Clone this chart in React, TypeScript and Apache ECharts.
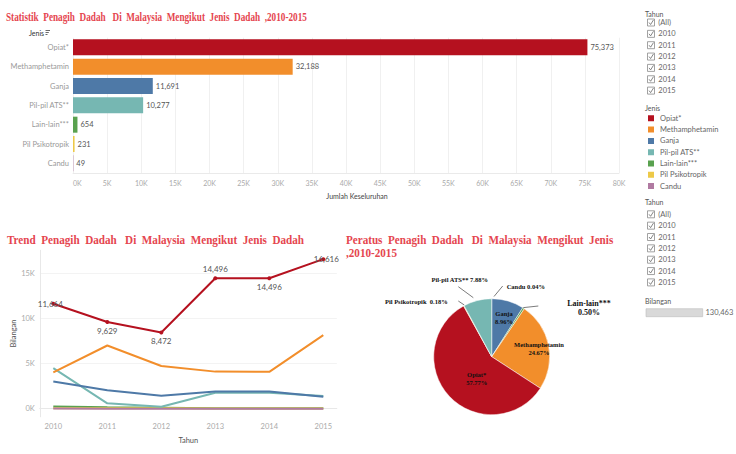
import React, { useEffect, useRef } from 'react';
import * as echarts from 'echarts';

// ---------- data ----------
const jenis = ['Opiat*', 'Methamphetamin', 'Ganja', 'Pil-pil ATS**', 'Lain-lain***', 'Pil Psikotropik', 'Candu'];
const jenisColors = ['#b5111f', '#f28e2b', '#4e79a7', '#76b7b2', '#59a14f', '#edc948', '#b07aa1'];
const totals = [75373, 32188, 11691, 10277, 654, 231, 49];

const years = [2010, 2011, 2012, 2013, 2014, 2015];
const opiat = [11664, 9629, 8472, 14496, 14496, 16616];
const meth = [4030, 7020, 4750, 4120, 4100, 8168];
const ganja = [3030, 2050, 1430, 1920, 1920, 1341];
const pilAts = [4500, 600, 222, 1778, 1778, 1399];
const lainLain = [250, 150, 100, 60, 50, 44];
const psiko = [50, 40, 40, 35, 35, 31];
const candu = [10, 8, 8, 8, 8, 7];
const lineYTicks = [0, 5000, 10000, 15000];
const opiatLabelPos = ['inside', 'bottom', 'bottom', 'top', 'bottom', 'inside'];

const pieOrder = ['Candu', 'Ganja', 'Lain-lain***', 'Methamphetamin', 'Opiat*', 'Pil Psikotropik', 'Pil-pil ATS**'];
const pieInside = ['Ganja', 'Methamphetamin', 'Opiat*'];
const pieSep: Record<string, string> = { 'Candu': ' ', 'Pil Psikotropik': '  ', 'Pil-pil ATS**': ' ' };

const tahunOptions = ['(All)', '2010', '2011', '2012', '2013', '2014', '2015'];
const totalBilangan = 130463;

// ---------- layout (positions only) ----------
const pieLabelPos: { x: number; y: number; line?: number[][] }[] = [
  { x: 525.8, y: 286.3, line: [[502.7, 286], [494, 296.5]] },
  { x: 504, y: 317 },
  { x: 589, y: 308, line: [[522.7, 307.7], [538.3, 306]] },
  { x: 539, y: 348 },
  { x: 476.7, y: 378 },
  { x: 416.3, y: 301, line: [[458.3, 301], [464.3, 305]] },
  { x: 459.7, y: 279.3, line: [[458.3, 286.7], [473.3, 297.7]] },
];

const SANS = 'Lato';
const SERIF = 'Liberation Serif';
const TITLE_RED = '#e5464f';

function fmtK(v: number) {
  return Math.round(v / 1000) + 'K';
}

function checkboxList(top: number, x: number) {
  const els: any[] = [];
  tahunOptions.forEach((t, i) => {
    const y = top + i * 11.35;
    els.push({
      type: 'rect',
      shape: { x: x + 2.5, y: y - 3.5, width: 7, height: 7 },
      style: { fill: '#fff', stroke: '#8a8a8a', lineWidth: 0.8 },
    });
    els.push({
      type: 'polyline',
      shape: { points: [[x + 4, y], [x + 5.6, y + 2], [x + 8.5, y - 2.6]] },
      style: { stroke: '#666', lineWidth: 0.8, fill: null },
    });
    els.push({
      type: 'text',
      x: x + 13.3,
      y,
      style: { text: t, fill: '#666', fontSize: 7.5, fontFamily: SANS, verticalAlign: 'middle' },
    });
  });
  return els;
}

export default function App() {
  const ref = useRef<HTMLDivElement>(null);

  useEffect(() => {
    if (!ref.current) return;
    const chart = echarts.init(ref.current, undefined, { renderer: 'svg' });

    const lineSeriesDefs = [
      { name: 'Lain-lain***', data: lainLain, color: jenisColors[4] },
      { name: 'Pil Psikotropik', data: psiko, color: jenisColors[5] },
      { name: 'Candu', data: candu, color: jenisColors[6] },
      { name: 'Pil-pil ATS**', data: pilAts, color: jenisColors[3] },
      { name: 'Ganja', data: ganja, color: jenisColors[2] },
      { name: 'Methamphetamin', data: meth, color: jenisColors[1] },
    ];

    const option: any = {
      animation: false,
      backgroundColor: '#fff',
      textStyle: { fontFamily: SANS },
      grid: [
        { left: 73, top: 37.7, width: 546, height: 135.3 },
        { left: 39.8, top: 250.3, width: 297, height: 166.5 },
      ],
      xAxis: [
        {
          type: 'value',
          gridIndex: 0,
          min: 0,
          max: 80000,
          interval: 5000,
          axisLabel: { formatter: fmtK, color: '#aaa', fontSize: 7, margin: 6, alignMinLabel: 'left', fontFamily: SANS },
          axisLine: { show: true, lineStyle: { color: '#eaeaea' } },
          axisTick: { show: false },
          splitLine: { lineStyle: { color: '#f0f0f0' } },
        },
        {
          type: 'value',
          gridIndex: 1,
          min: 2009.75,
          max: 2015.25,
          axisLabel: { customValues: years, formatter: (v: number) => String(v), color: '#aaa', fontSize: 7.5, margin: 6, fontFamily: SANS },
          axisTick: { show: false, customValues: years },
          axisLine: { show: true, lineStyle: { color: '#e8e8e8' } },
          splitLine: { show: false },
          name: 'Tahun',
          nameLocation: 'middle',
          nameGap: 20,
          nameTextStyle: { color: '#555', fontSize: 7.5, fontFamily: SANS },
        },
      ],
      yAxis: [
        {
          type: 'category',
          gridIndex: 0,
          inverse: true,
          data: jenis,
          axisLabel: { color: '#999', fontSize: 7.5, margin: 4, fontFamily: SANS },
          axisLine: { show: false },
          axisTick: { show: false },
        },
        {
          type: 'value',
          gridIndex: 1,
          min: -900,
          max: 17600,
          axisLabel: { customValues: lineYTicks, formatter: fmtK, color: '#aaa', fontSize: 7.5, margin: 5, fontFamily: SANS },
          axisTick: { show: false, customValues: lineYTicks },
          axisLine: { show: true, lineStyle: { color: '#e8e8e8' } },
          splitLine: { show: true, lineStyle: { color: '#f3f3f3' } },
          name: 'Bilangan',
          nameLocation: 'middle',
          nameGap: 22,
          nameTextStyle: { color: '#555', fontSize: 7.5, fontFamily: SANS },
        },
      ],
      legend: {
        data: jenis,
        orient: 'vertical',
        left: 646,
        top: 113.3,
        itemWidth: 8,
        itemHeight: 8,
        itemGap: 1.3,
        icon: 'rect',
        padding: 0,
        selectedMode: false,
        textStyle: { color: '#666', fontSize: 7.5, fontFamily: SANS },
      },
      series: [
        {
          type: 'bar',
          xAxisIndex: 0,
          yAxisIndex: 0,
          barWidth: 16,
          data: totals.map((v, i) => ({ value: v, itemStyle: { color: jenisColors[i] } })),
          label: {
            show: true,
            position: 'right',
            distance: 3,
            color: '#555',
            fontSize: 7.5,
            fontFamily: SANS,
            formatter: (p: any) => Number(p.value).toLocaleString('en-US'),
          },
        },
        ...lineSeriesDefs.map((d) => ({
          type: 'line',
          name: d.name + ' ',
          xAxisIndex: 1,
          yAxisIndex: 1,
          data: years.map((y, i) => [y, d.data[i]]),
          showSymbol: false,
          lineStyle: { color: d.color, width: 2 },
          itemStyle: { color: d.color },
        })),
        {
          type: 'line',
          name: 'Opiat* ',
          xAxisIndex: 1,
          yAxisIndex: 1,
          z: 5,
          data: years.map((y, i) => ({
            value: [y, opiat[i]],
            label: {
              position: opiatLabelPos[i],
              offset: i === 0 ? [-3, 0] : i === 5 ? [3, 0] : [0, 0],
            },
          })),
          symbol: 'circle',
          symbolSize: 4,
          lineStyle: { color: jenisColors[0], width: 2 },
          itemStyle: { color: jenisColors[0] },
          label: {
            show: true,
            distance: 3,
            color: '#555',
            fontSize: 8,
            fontFamily: SANS,
            formatter: (p: any) => Number(p.value[1]).toLocaleString('en-US'),
          },
        },
        {
          type: 'pie',
          center: [491.7, 356.7],
          radius: 58,
          startAngle: 90,
          clockwise: true,
          avoidLabelOverlap: false,
          itemStyle: { borderColor: '#fff', borderWidth: 0.5 },
          data: pieOrder.map((n) => {
            const idx = jenis.indexOf(n);
            const inside = pieInside.indexOf(n) >= 0;
            return {
              name: n,
              value: totals[idx],
              itemStyle: { color: jenisColors[idx] },
              label: {
                position: inside ? 'inside' : 'outside',
                fontSize: n === 'Lain-lain***' ? 8 : 6.5,
                lineHeight: n === 'Lain-lain***' ? 9.5 : 8,
              },
              labelLine: { show: !inside },
            };
          }),
          label: {
            show: true,
            color: '#111',
            fontFamily: SERIF,
            fontWeight: 'bold',
            formatter: (p: any) => {
              const sep = pieSep[p.name] !== undefined ? pieSep[p.name] : '\n';
              return p.name + sep + p.percent.toFixed(2) + '%';
            },
          },
          labelLine: { lineStyle: { color: '#444', width: 0.7 }, length: 5, length2: 5 },
          labelLayout: (params: any) => {
            const p = pieLabelPos[params.dataIndex];
            const res: any = { x: p.x, y: p.y, align: 'center', verticalAlign: 'middle' };
            if (p.line) res.labelLinePoints = [p.line[0], p.line[0], p.line[1]];
            return res;
          },
        },
      ],
      graphic: [
        {
          type: 'text',
          x: 6,
          y: 17,
          scaleX: 0.8,
          style: { text: 'Statistik  Penagih  Dadah   Di  Malaysia  Mengikut  Jenis  Dadah  ,2010-2015', fill: TITLE_RED, fontSize: 11.5, fontWeight: 'bold', fontFamily: SERIF, verticalAlign: 'middle' },
        },
        {
          type: 'text',
          x: 7,
          y: 240,
          scaleX: 0.97,
          style: { text: 'Trend  Penagih  Dadah   Di  Malaysia  Mengikut  Jenis  Dadah', fill: TITLE_RED, fontSize: 11.5, fontWeight: 'bold', fontFamily: SERIF, verticalAlign: 'middle' },
        },
        {
          type: 'text',
          x: 346,
          y: 240,
          scaleX: 0.89,
          style: { text: 'Peratus  Penagih  Dadah   Di  Malaysia  Mengikut  Jenis', fill: TITLE_RED, fontSize: 12.5, fontWeight: 'bold', fontFamily: SERIF, verticalAlign: 'middle' },
        },
        {
          type: 'text',
          x: 346,
          y: 252.5,
          scaleX: 0.89,
          style: { text: ',2010-2015', fill: TITLE_RED, fontSize: 12.5, fontWeight: 'bold', fontFamily: SERIF, verticalAlign: 'middle' },
        },
        {
          type: 'text',
          x: 29,
          y: 32.5,
          style: { text: 'Jenis', fill: '#333', fontSize: 7, fontFamily: SANS, verticalAlign: 'middle' },
        },
        { type: 'rect', shape: { x: 45.5, y: 30, width: 4.5, height: 0.8 }, style: { fill: '#444' } },
        { type: 'rect', shape: { x: 45.5, y: 32, width: 3.3, height: 0.8 }, style: { fill: '#444' } },
        { type: 'rect', shape: { x: 45.5, y: 34, width: 2, height: 0.8 }, style: { fill: '#444' } },
        {
          type: 'text',
          x: 357,
          y: 196,
          style: { text: 'Jumlah Keseluruhan', fill: '#444', fontSize: 7, fontFamily: SANS, align: 'center', verticalAlign: 'middle' },
        },
        // right panel
        {
          type: 'text',
          x: 645,
          y: 14,
          style: { text: 'Tahun', fill: '#555', fontSize: 7, fontFamily: SANS, verticalAlign: 'middle' },
        },
        ...checkboxList(22.5, 645),
        {
          type: 'text',
          x: 645,
          y: 108.3,
          style: { text: 'Jenis', fill: '#555', fontSize: 7, fontFamily: SANS, verticalAlign: 'middle' },
        },
        {
          type: 'text',
          x: 645,
          y: 202,
          style: { text: 'Tahun', fill: '#555', fontSize: 7, fontFamily: SANS, verticalAlign: 'middle' },
        },
        ...checkboxList(214.3, 645),
        {
          type: 'text',
          x: 645,
          y: 301,
          style: { text: 'Bilangan', fill: '#555', fontSize: 7, fontFamily: SANS, verticalAlign: 'middle' },
        },
        {
          type: 'rect',
          shape: { x: 646, y: 308.7, width: 56.7, height: 8 },
          style: { fill: '#d9d9d9', stroke: '#bdbdbd', lineWidth: 0.6 },
        },
        {
          type: 'text',
          x: 705.5,
          y: 312.7,
          style: { text: totalBilangan.toLocaleString('en-US'), fill: '#666', fontSize: 7.5, fontFamily: SANS, verticalAlign: 'middle' },
        },
      ],
    };

    chart.setOption(option);
    return () => chart.dispose();
  }, []);

  return (
    <div
      ref={ref}
      style={{ position: 'absolute', left: 0, top: 0, width: 736, height: 454, background: '#fff' }}
    />
  );
}
